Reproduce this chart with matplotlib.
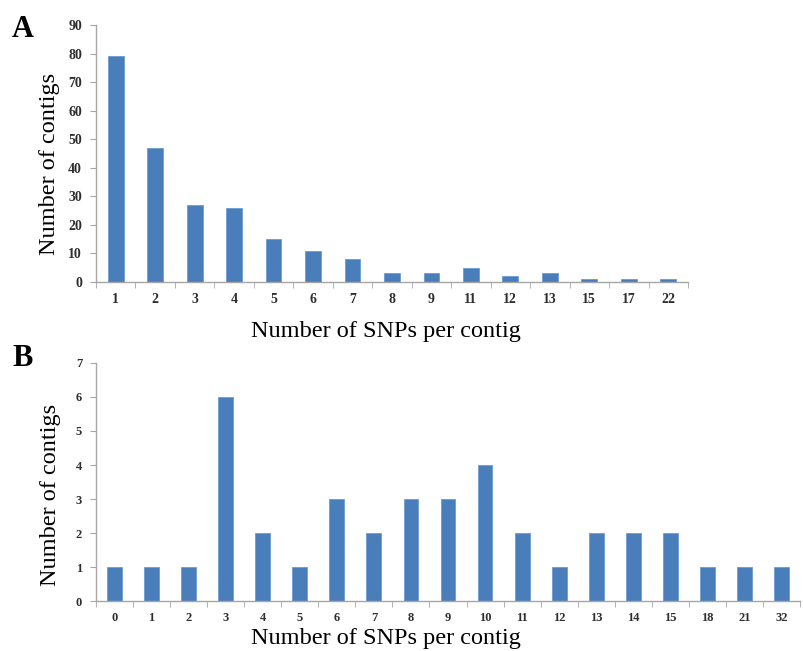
# SNPs per contig histograms, two panels
import numpy as np
import matplotlib
matplotlib.use("Agg")
import matplotlib.pyplot as plt

snps_a = ["1", "2", "3", "4", "5", "6", "7", "8", "9", "11", "12", "13", "15", "17", "22"]
contigs_a = [79, 47, 27, 26, 15, 11, 8, 3, 3, 5, 2, 3, 1, 1, 1]

snps_b = ["0", "1", "2", "3", "4", "5", "6", "7", "8", "9", "10", "11", "12",
          "13", "14", "15", "18", "21", "32"]
contigs_b = [1, 1, 1, 6, 2, 1, 3, 2, 3, 3, 4, 2, 1, 2, 2, 2, 1, 1, 1]

BAR = "#4a7ebb"
AXIS = "#a6a6a6"
SERIF = "Liberation Serif"


def panel(ax, cats, vals, ymax, ystep, tick_size, xlab_coords, ylab_coords):
    x = np.arange(len(cats))
    ax.bar(x, vals, width=0.4, color=BAR, edgecolor="#6b9bd3", linewidth=0.6)
    ax.set_xlim(-0.5, len(cats) - 0.5)
    ax.set_ylim(0, ymax)
    ax.set_yticks(np.arange(0, ymax + ystep, ystep))
    ax.set_xticks(x)
    ax.set_xticklabels(cats)
    ax.set_xticks(np.arange(-0.5, len(cats), 1), minor=True)
    for s in ("top", "right"):
        ax.spines[s].set_visible(False)
    for s in ("left", "bottom"):
        ax.spines[s].set_color(AXIS)
        ax.spines[s].set_linewidth(1.0)
    ax.tick_params(axis="x", which="major", length=0, pad=8)
    ax.tick_params(axis="x", which="minor", length=4, color=AXIS, direction="out")
    ax.tick_params(axis="y", length=4, color=AXIS, direction="out", pad=6)
    for lab in ax.get_xticklabels() + ax.get_yticklabels():
        lab.set_fontfamily(SERIF)
        lab.set_fontweight("bold")
        lab.set_fontsize(tick_size)
        lab.set_color("#2e2e2e")
    ax.set_xlabel("Number of SNPs per contig", fontfamily=SERIF, fontsize=17.5)
    ax.xaxis.label.set_va("baseline")
    ax.xaxis.set_label_coords(*xlab_coords)
    ax.set_ylabel("Number of contigs", fontfamily=SERIF, fontsize=17.5)
    ax.yaxis.label.set_va("center")
    ax.yaxis.set_label_coords(*ylab_coords)


fig = plt.figure(figsize=(8.04, 6.51), dpi=100)
ax_a = fig.add_axes([0.1194, 0.5668, 0.7363, 0.3948])
ax_b = fig.add_axes([0.1194, 0.0768, 0.8756, 0.3656])

panel(ax_a, snps_a, contigs_a, 90, 10, 10, (0.490, -0.214), (-0.078, 0.459))
panel(ax_b, snps_b, contigs_b, 7, 1, 9, (0.412, -0.180), (-0.065, 0.445))

fig.text(12 / 804, 1 - 37 / 651, "A", fontfamily=SERIF, fontweight="bold",
         fontsize=22, va="baseline")
fig.text(12 / 804, 1 - 366 / 651, "B", fontfamily=SERIF, fontweight="bold",
         fontsize=22, va="baseline")

fig.savefig("out.png", dpi=100)
